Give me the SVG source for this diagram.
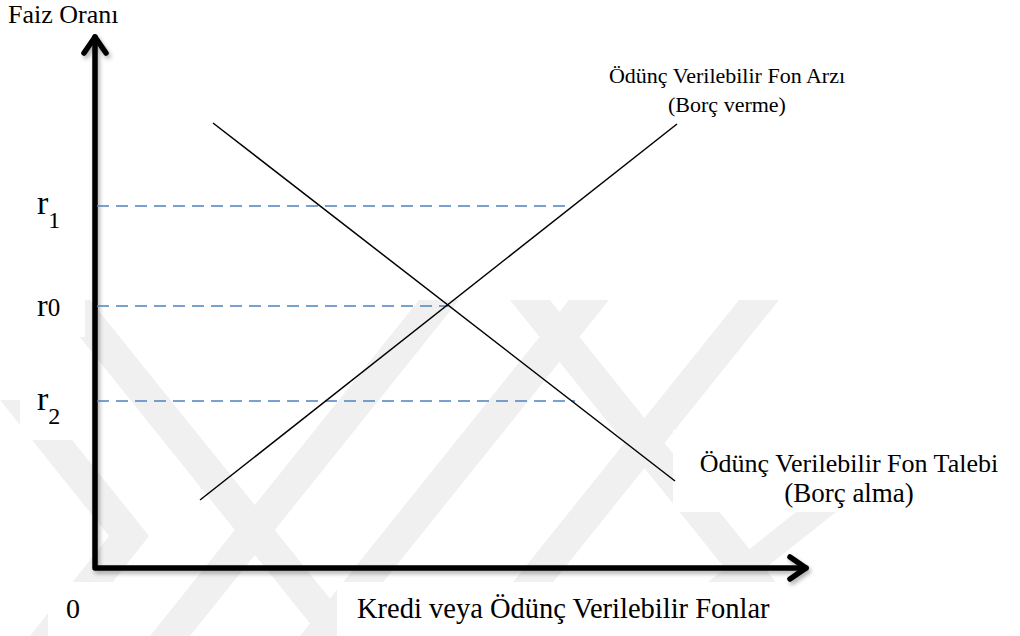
<svg xmlns="http://www.w3.org/2000/svg" width="1020" height="636" viewBox="0 0 1020 636">
<defs>
<style>
.t{font-family:"Liberation Serif","Times New Roman",serif;fill:#000}
.axis{fill:none;stroke:#000;stroke-width:5.5;stroke-linecap:round;stroke-linejoin:round}
.curve{fill:none;stroke:#000;stroke-width:1.5}
.dash{fill:none;stroke:#4f81bd;stroke-width:1.6;stroke-dasharray:12 7}
.wm{fill:#f0f0f0}
.box{fill:#fff}
</style>
<filter id="sh" x="-5%" y="-5%" width="110%" height="110%">
<feDropShadow dx="2" dy="3" stdDeviation="2" flood-color="#000" flood-opacity="0.3"/>
</filter>
</defs>
<rect width="1020" height="636" fill="#fff"/>
<g id="watermark">
<polygon class="wm" points="0,400 40,400 149,536 109,536"/>
<polygon class="wm" points="109,536 149,536 70,636 30,636"/>
<polygon class="wm" points="50,300 90,300 360,636 320,636"/>
<polygon class="wm" points="419,300 459,300 190,636 150,636"/>
<polygon class="wm" points="569,300 609,300 340,636 300,636"/>
<polygon class="wm" points="739,300 779,300 510,636 470,636"/>
<polygon class="wm" points="510,300 550,300 819,636 779,636"/>
<polygon class="wm" points="849,470 889,470 680,636 640,636"/>
</g>
<g id="label-boxes">
<rect class="box" x="20" y="285" width="65" height="52"/>
<rect class="box" x="20" y="373" width="65" height="67"/>
<rect class="box" x="48" y="582" width="70" height="54"/>
<rect class="box" x="337" y="582" width="683" height="54"/>
<rect class="box" x="673" y="430" width="347" height="82"/>
</g>
<g id="axes" filter="url(#sh)">
<path class="axis" d="M95,37 L95,568 L806,568"/>
<path class="axis" d="M84,53 L95,37 L106,53"/>
<path class="axis" d="M790,557 L806,568 L790,579"/>
</g>
<g id="connectors">
<line class="dash" x1="97" y1="206" x2="570" y2="206"/>
<line class="dash" x1="97" y1="306" x2="448" y2="306"/>
<line class="dash" x1="97" y1="401" x2="575" y2="401"/>
<line id="supply" class="curve" x1="200" y1="500" x2="677" y2="124"/>
<line id="demand" class="curve" x1="213" y1="123" x2="675" y2="481"/>
</g>
<g id="label-y">
<text class="t" x="8" y="23" font-size="26">Faiz Oranı</text>
</g>
<g id="label-r1">
<text class="t" x="37" y="214" font-size="34">r<tspan font-size="24" dy="14">1</tspan></text>
</g>
<g id="label-r0">
<text class="t" x="37" y="316" font-size="32">r<tspan font-size="25">0</tspan></text>
</g>
<g id="label-r2">
<text class="t" x="37" y="410" font-size="34">r<tspan font-size="24" dy="14">2</tspan></text>
</g>
<g id="label-supply">
<text class="t" x="727" y="83" font-size="22" text-anchor="middle">Ödünç Verilebilir Fon Arzı</text>
<text class="t" x="727" y="112" font-size="22" text-anchor="middle">(Borç verme)</text>
</g>
<g id="label-demand">
<text class="t" x="849" y="472" font-size="26" text-anchor="middle">Ödünç Verilebilir Fon Talebi</text>
<text class="t" x="849" y="502" font-size="27" text-anchor="middle">(Borç alma)</text>
</g>
<g id="label-origin">
<text class="t" x="66" y="618" font-size="28">0</text>
</g>
<g id="label-x">
<text class="t" x="357" y="618" font-size="28.5">Kredi veya Ödünç Verilebilir Fonlar</text>
</g>
</svg>
